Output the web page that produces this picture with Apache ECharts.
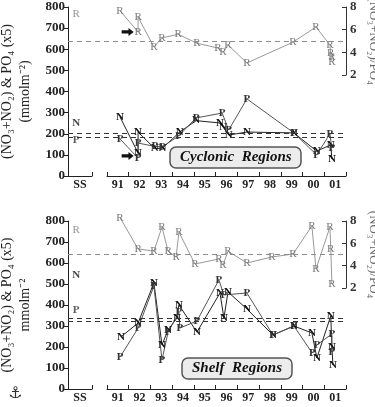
<!DOCTYPE html>
<html>
<head>
<meta charset="utf-8">
<script src="https://cdn.jsdelivr.net/npm/echarts@6/dist/echarts.min.js"></script>
<style>
  html, body { margin: 0; background: #fff; }
  #chart { width: 375px; height: 407px; }
</style>
</head>
<body>
<div id="chart"></div>
<script>
// year categories on the broken x axis
const years = ["91", "92", "93", "94", "95", "96", "97", "98", "99", "00", "01"];
const ssCat = ["SS"];
const ssX = 1989.58;

// Cyclonic regions: [year, value]
const cycN = [[1991.6, 279], [1992.43, 109], [1992.43, 208], [1993.2, 130], [1993.55, 132], [1994.35, 208],
  [1995.1, 262], [1996.2, 251], [1996.34, 232], [1996.6, 194], [1997.44, 208], [1999.6, 204],
  [2000.65, 118], [2001.3, 147], [2001.35, 80]];
const cycP = [[1991.6, 175], [1992.43, 85], [1992.43, 156], [1993.2, 140], [1993.55, 138], [1994.3, 190],
  [1995.1, 275], [1996.3, 298], [1996.6, 218], [1997.44, 365], [1999.6, 204], [2000.65, 100],
  [2001.26, 199], [2001.35, 132]];
const cycR = [[1991.6, 7.67], [1992.43, 5.8], [1992.43, 7.12], [1993.16, 4.47], [1993.53, 5.27], [1994.27, 5.6],
  [1995.14, 4.8], [1996.11, 4.38], [1996.34, 4.0], [1996.57, 4.65], [1997.44, 3.06], [1999.56, 4.9],
  [2000.62, 6.24], [2001.26, 4.65], [2001.3, 3.94], [2001.35, 3.6], [2001.35, 3.15]];
const cycSS = { N: 251, P: 171, R: 7.38 };
const cycMean = { N: 204, P: 185, R: 5 };

// Shelf regions
const shfN = [[1991.64, 248], [1992.43, 314], [1993.16, 505], [1993.53, 210], [1993.81, 281], [1994.22, 338],
  [1994.31, 400], [1995.14, 271], [1996.2, 457], [1996.38, 338], [1996.57, 462], [1997.44, 381],
  [1998.64, 257], [1999.6, 300], [2000.43, 267], [2000.66, 148], [2001.3, 348], [2001.35, 200], [2001.4, 114]];
const shfP = [[1991.6, 152], [1992.43, 290], [1993.16, 490], [1993.53, 138], [1993.81, 270], [1994.31, 367],
  [1994.35, 290], [1995.14, 324], [1996.15, 519], [1996.38, 448], [1997.44, 457], [1998.64, 257],
  [1999.6, 300], [2000.45, 171], [2000.66, 210], [2001.35, 262], [2001.35, 176]];
const shfR = [[1991.6, 8.3], [1992.43, 5.5], [1993.16, 5.3], [1993.53, 7.46], [1993.81, 5.3], [1994.18, 4.78],
  [1994.31, 7.0], [1995.05, 4.15], [1996.15, 4.6], [1996.34, 4.06], [1996.57, 5.3], [1997.44, 4.24],
  [1998.59, 4.78], [1999.56, 5.04], [2000.43, 7.55], [2000.62, 3.7], [2001.26, 7.46], [2001.3, 5.5],
  [2001.35, 2.36]];
const shfSS = { N: 543, P: 376, R: 7.19 };
const shfMean = { N: 338, P: 324, R: 5 };

// arrows pointing at two cyclonic samples
const arrowR = [1991.95, 5.8];
const arrowN = [1991.95, 95];

// layout (px)
const L = 68, R = 29, yearLeft = 107, ssWidth = 24;
const pxPerYear = (375 - R - yearLeft) / years.length;
const xMin = 1991 - (yearLeft - L) / pxPerYear;
const xMax = 1991 + years.length;

const serif = "Liberation Serif";
const panels = [
  { top: 7, h: 169, rh: 68, N: cycN, P: cycP, Rr: cycR, ss: cycSS, mean: cycMean,
    unit: "(mmolm⁻²)", box: "Cyclonic  Regions", boxLeft: 170, boxTop: 147, arrows: true },
  { top: 221, h: 168, rh: 67, N: shfN, P: shfP, Rr: shfR, ss: shfSS, mean: shfMean,
    unit: "mmolm⁻²", box: "Shelf  Regions", boxLeft: 182, boxTop: 358, arrows: false }
];

const grid = [], xAxis = [], yAxis = [], series = [], title = [];
const arrowPath = "path://M0,3 L8,3 L8,0 L14,5 L8,10 L8,7 L0,7 Z";

function letter(ch, color, bold) {
  return { show: true, position: "inside", formatter: ch, color: color,
    fontFamily: serif, fontSize: 11, fontWeight: bold ? "bold" : "normal" };
}
function dashed(v, color) {
  return { silent: true, symbol: ["none", "none"], label: { show: false },
    lineStyle: { type: [5, 4], color: color, width: 1 }, data: [{ yAxis: v }] };
}

panels.forEach((p, i) => {
  const g = i * 4;
  grid.push({ left: L, right: R, top: p.top, height: p.h, outerBoundsMode: "none" });
  grid.push({ left: L, right: R, top: p.top, height: p.rh, outerBoundsMode: "none" });
  grid.push({ left: L, width: ssWidth, top: p.top, height: p.h, outerBoundsMode: "none" });
  grid.push({ left: yearLeft, right: R, top: p.top, height: p.h, outerBoundsMode: "none" });

  xAxis.push({ gridIndex: g, type: "value", min: xMin, max: xMax, show: false });
  xAxis.push({ gridIndex: g + 1, type: "value", min: xMin, max: xMax, show: false });
  const catAxis = (idx, data) => ({
    gridIndex: idx, type: "category", data: data, boundaryGap: true,
    axisLine: { show: true, lineStyle: { color: "#222", width: 1 } },
    axisTick: { show: true, inside: true, length: 4, lineStyle: { color: "#222" } },
    axisLabel: { fontFamily: serif, fontWeight: "bold", fontSize: 12, color: "#222", margin: 3 },
    splitLine: { show: false }
  });
  xAxis.push(catAxis(g + 2, ssCat));
  xAxis.push(catAxis(g + 3, years));

  yAxis.push({
    gridIndex: g, type: "value", min: 0, max: 800, interval: 100,
    axisLine: { show: true, lineStyle: { color: "#222" } },
    axisTick: { show: true, length: 4, lineStyle: { color: "#222" } },
    axisLabel: { fontFamily: serif, fontWeight: "bold", fontSize: 13, color: "#222", margin: 3 },
    splitLine: { show: false },
    name: "(NO₃+NO₂) & PO₄ (x5)\n" + p.unit,
    nameLocation: "middle", nameRotate: 90, nameGap: 30,
    nameTextStyle: { fontFamily: serif, fontSize: 14, color: "#222", lineHeight: 18 }
  });
  yAxis.push({
    gridIndex: g + 1, type: "value", position: "right", min: 2, max: 8, interval: 2,
    axisLine: { show: true, lineStyle: { color: "#333" } },
    axisTick: { show: true, inside: true, length: 4, lineStyle: { color: "#333" } },
    axisLabel: { fontFamily: serif, fontWeight: "bold", fontSize: 13, color: "#333", margin: 4 },
    splitLine: { show: false },
    name: "(NO₃+NO₂)/PO₄", nameLocation: "middle", nameRotate: -90, nameGap: 12,
    nameTextStyle: { fontFamily: serif, fontSize: 13, color: "#666" }
  });
  yAxis.push({ gridIndex: g + 2, type: "value", show: false });
  yAxis.push({ gridIndex: g + 3, type: "value", show: false });

  const lineSeries = (data, xi, ch, lineColor, textColor, bold, mean, meanColor) => ({
    type: "line", xAxisIndex: xi, yAxisIndex: xi, data: data, clip: false,
    symbol: "circle", symbolSize: 2, itemStyle: { color: "rgba(0,0,0,0)" },
    lineStyle: { color: lineColor, width: 1 },
    label: letter(ch, textColor, bold), labelLayout: { hideOverlap: false },
    emphasis: { disabled: true }, silent: true, animation: false,
    markLine: dashed(mean, meanColor)
  });
  const rS = lineSeries(p.Rr, g + 1, "R", "#999", "#7a7a7a", false, p.mean.R, "#8c8c8c");
  const nS = lineSeries(p.N, g, "N", "#222", "#111", true, p.mean.N, "#333");
  const pS = lineSeries(p.P, g, "P", "#555", "#333", true, p.mean.P, "#333");
  if (p.arrows) {
    const mp = (c) => ({ silent: true, symbol: arrowPath, symbolSize: [12, 8], label: { show: false },
      itemStyle: { color: "#111" }, data: [{ coord: c }] });
    rS.markPoint = mp(arrowR);
    nS.markPoint = mp(arrowN);
  }
  series.push(rS, nS, pS);

  const ssSeries = (v, xi, ch, color, bold) => ({
    type: "scatter", xAxisIndex: xi, yAxisIndex: xi, data: [[ssX, v]],
    symbolSize: 2, itemStyle: { color: "rgba(0,0,0,0)" }, label: letter(ch, color, bold),
    silent: true, animation: false
  });
  series.push(ssSeries(p.ss.R, g + 1, "R", "#7a7a7a", false));
  series.push(ssSeries(p.ss.N, g, "N", "#111", true));
  series.push(ssSeries(p.ss.P, g, "P", "#333", true));

  title.push({
    text: p.box, left: p.boxLeft, top: p.boxTop,
    padding: [3, 10, 3, 10], backgroundColor: "#ececec", borderColor: "#555", borderWidth: 1.5,
    borderRadius: 6,
    textStyle: { fontFamily: serif, fontStyle: "italic", fontWeight: "bold", fontSize: 15, color: "#111" }
  });
});

const chart = echarts.init(document.getElementById("chart"));
chart.setOption({
  animation: false,
  backgroundColor: "#fff",
  title: title,
  grid: grid,
  xAxis: xAxis,
  yAxis: yAxis,
  series: series,
  graphic: [
    { type: "text", left: 8, top: 386, style: { text: "⚓", fontSize: 16, fill: "#333", fontFamily: "DejaVu Sans" } }
  ]
});
</script>
</body>
</html>
